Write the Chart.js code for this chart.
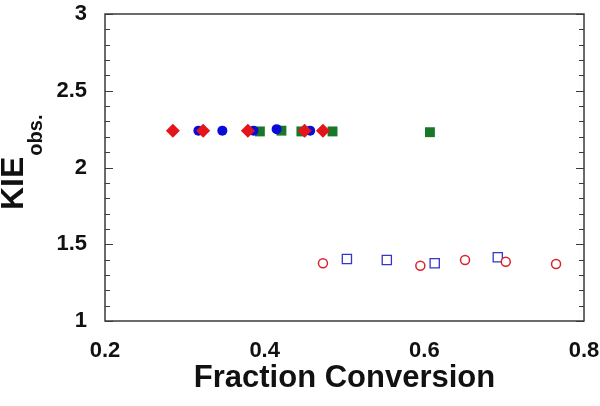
<!DOCTYPE html>
<html>
<head>
<meta charset="utf-8">
<script src="https://cdn.jsdelivr.net/npm/chart.js@4"></script>
<style>
  body { margin: 0; background: #fff; }
  #wrap { width: 600px; height: 406px; }
</style>
</head>
<body>
<div id="wrap"><canvas id="kieChart"></canvas></div>
<script>
// fraction conversion (x) and observed KIE (y) for each series
var diamondX = [0.285, 0.323, 0.379, 0.450, 0.473];
var diamondY = [2.24, 2.24, 2.24, 2.24, 2.24];
var dotX = [0.317, 0.347, 0.386, 0.415, 0.457];
var dotY = [2.24, 2.24, 2.24, 2.25, 2.24];
var squareX = [0.394, 0.421, 0.446, 0.485, 0.607];
var squareY = [2.235, 2.24, 2.235, 2.235, 2.23];
var openCircleX = [0.473, 0.595, 0.651, 0.702, 0.765];
var openCircleY = [1.376, 1.36, 1.397, 1.386, 1.371];
var openSquareX = [0.503, 0.553, 0.613, 0.692];
var openSquareY = [1.404, 1.397, 1.376, 1.415];
var xTickLabels = ['0.2', '0.4', '0.6', '0.8'];
var yTickLabels = ['1', '1.5', '2', '2.5', '3'];

function pts(xs, ys) {
  return xs.map(function (x, i) { return { x: x, y: ys[i] }; });
}

var fontFam = '"Liberation Sans", Arial, Helvetica, sans-serif';

// box around the plot, inward ticks left/right, and the KIE(obs.) label
var framePlugin = {
  id: 'frame',
  afterDatasetsDraw: function (chart) {
    var ctx = chart.ctx, a = chart.chartArea, ys = chart.scales.y;
    ctx.save();
    ctx.strokeStyle = '#3a3a3a';
    ctx.lineWidth = 1.5;
    ctx.strokeRect(a.left, a.top, a.right - a.left, a.bottom - a.top);
    ctx.lineWidth = 1.2;
    for (var v = 10; v <= 30; v++) {
      var py = Math.round(ys.getPixelForValue(v / 10)) + 0.5;
      var len = v % 5 === 0 ? 8 : 5;
      ctx.beginPath();
      ctx.moveTo(a.left, py); ctx.lineTo(a.left + len, py);
      ctx.moveTo(a.right, py); ctx.lineTo(a.right - len, py);
      ctx.stroke();
    }
    ctx.restore();

    ctx.save();
    ctx.fillStyle = '#111';
    ctx.translate(23, 210);
    ctx.rotate(-Math.PI / 2);
    ctx.textAlign = 'left';
    ctx.textBaseline = 'alphabetic';
    ctx.font = 'bold 32px ' + fontFam;
    ctx.fillText('KIE', 0, 0);
    var w = ctx.measureText('KIE').width;
    ctx.font = 'bold 20px ' + fontFam;
    ctx.fillText('obs.', w + 1, 19);
    ctx.restore();
  }
};

var ctx = document.getElementById('kieChart');
new Chart(ctx, {
  type: 'scatter',
  data: {
    datasets: [
      {
        label: 'diamonds',
        data: pts(diamondX, diamondY),
        pointStyle: 'rectRot',
        pointRadius: 7,
        backgroundColor: '#e3151a',
        borderColor: '#e3151a',
        borderWidth: 0,
        order: 1
      },
      {
        label: 'dots',
        data: pts(dotX, dotY),
        pointStyle: 'circle',
        pointRadius: 5,
        backgroundColor: '#0b0bd8',
        borderColor: '#0b0bd8',
        borderWidth: 0,
        order: 2
      },
      {
        label: 'squares',
        data: pts(squareX, squareY),
        pointStyle: 'rect',
        pointRadius: 7,
        backgroundColor: '#17782a',
        borderColor: '#17782a',
        borderWidth: 0,
        order: 3
      },
      {
        label: 'open circles',
        data: pts(openCircleX, openCircleY),
        pointStyle: 'circle',
        pointRadius: 4.5,
        backgroundColor: '#ffffff',
        borderColor: '#d9232a',
        borderWidth: 1.5,
        order: 4
      },
      {
        label: 'open squares',
        data: pts(openSquareX, openSquareY),
        pointStyle: 'rect',
        pointRadius: 6.5,
        backgroundColor: '#ffffff',
        borderColor: '#3535c8',
        borderWidth: 1.3,
        order: 5
      }
    ]
  },
  options: {
    responsive: true,
    maintainAspectRatio: false,
    animation: false,
    layout: { padding: { left: 0, right: 16, top: 14, bottom: 0 } },
    plugins: {
      legend: { display: false },
      tooltip: { enabled: false }
    },
    elements: { point: { hoverRadius: 0 } },
    scales: {
      x: {
        type: 'linear',
        min: 0.2,
        max: 0.8,
        grid: { display: false },
        border: { display: false },
        ticks: {
          stepSize: 0.2,
          padding: 9,
          color: '#111',
          font: { family: fontFam, size: 22, weight: 'bold' },
          callback: function (value, index) { return xTickLabels[index]; }
        },
        title: {
          display: true,
          text: 'Fraction Conversion',
          color: '#111',
          font: { family: fontFam, size: 31, weight: 'bold' },
          padding: { top: 0, bottom: 9 }
        },
        afterFit: function (scale) {
          scale.height = 85;
          scale.paddingLeft = 0;
          scale.paddingRight = 0;
        }
      },
      y: {
        type: 'linear',
        min: 1,
        max: 3,
        grid: { display: false },
        border: { display: false },
        ticks: {
          stepSize: 0.5,
          padding: 10,
          color: '#111',
          font: { family: fontFam, size: 22, weight: 'bold' },
          callback: function (value, index) { return yTickLabels[index]; }
        },
        afterFit: function (scale) {
          scale.width = 105;
          scale.paddingTop = 0;
          scale.paddingBottom = 0;
        }
      }
    }
  },
  plugins: [framePlugin]
});
</script>
</body>
</html>
